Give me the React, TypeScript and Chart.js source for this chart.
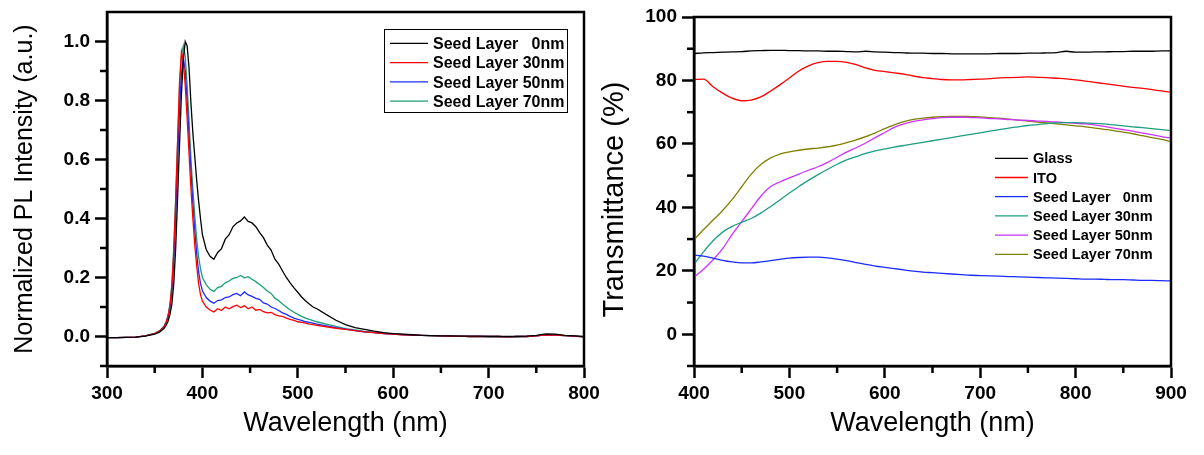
import React, { useEffect, useRef } from "react";
import { Chart, registerables } from "chart.js";

Chart.register(...registerables);

// ---------- Left panel: normalized PL spectra ----------
const plWavelength = [
  300, 310, 320, 330, 340, 350, 355, 360, 362, 364, 366, 368, 370, 372, 374, 376, 378, 380, 382, 384, 386, 388,
  390, 392, 394, 396, 398, 400, 404, 408, 412, 416, 420, 424, 428, 432, 436, 440, 444, 448, 452, 456, 460, 464,
  468, 472, 476, 480, 484, 488, 492, 496, 500, 504, 508, 512, 516, 520, 530, 540, 550, 560, 570, 580, 590, 600,
  610, 620, 630, 640, 650, 660, 670, 680, 690, 700, 710, 720, 730, 740, 750, 760, 770, 780, 790, 800,
];
const plSeed0 = [
  -0.004, -0.004, -0.003, -0.002, 0.001, 0.008, 0.015, 0.028, 0.038, 0.052, 0.075, 0.11, 0.18, 0.3, 0.47, 0.65,
  0.82, 0.94, 1.0, 0.985, 0.91, 0.79, 0.69, 0.61, 0.53, 0.46, 0.4, 0.345, 0.295, 0.272, 0.262, 0.285, 0.298, 0.33,
  0.345, 0.372, 0.385, 0.392, 0.405, 0.39, 0.385, 0.372, 0.352, 0.335, 0.31, 0.293, 0.262, 0.245, 0.222, 0.2,
  0.182, 0.165, 0.15, 0.134, 0.121, 0.11, 0.1, 0.094, 0.074, 0.055, 0.04, 0.03, 0.024, 0.018, 0.013, 0.01, 0.008,
  0.006, 0.004, 0.003, 0.002, 0.002, 0.001, 0.001, 0.001, 0.0, 0.0, 0.0, 0.0, 0.001, 0.004, 0.009, 0.008, 0.004,
  0.002, 0.0,
];
const plSeed30 = [
  -0.004, -0.004, -0.003, -0.002, 0.002, 0.01, 0.018, 0.034, 0.048, 0.068, 0.105, 0.17, 0.29, 0.46, 0.66, 0.86,
  0.965, 0.935, 0.85, 0.74, 0.62, 0.5, 0.4, 0.31, 0.24, 0.18, 0.142, 0.12, 0.1, 0.09, 0.083, 0.094, 0.088, 0.1,
  0.094, 0.101, 0.106, 0.098, 0.104, 0.094, 0.1, 0.089, 0.092, 0.084, 0.08, 0.082, 0.074, 0.07, 0.068, 0.062,
  0.058, 0.055, 0.05, 0.048, 0.045, 0.042, 0.04, 0.038, 0.033, 0.028, 0.024, 0.02, 0.016, 0.013, 0.01, 0.008,
  0.006, 0.005, 0.004, 0.003, 0.002, 0.001, 0.001, 0.0, 0.0, 0.0, 0.0, -0.001, 0.0, 0.0, 0.002, 0.006, 0.005,
  0.003, 0.001, -0.001,
];
const plSeed50 = [
  -0.004, -0.004, -0.003, -0.002, 0.002, 0.01, 0.018, 0.034, 0.048, 0.067, 0.098, 0.155, 0.255, 0.41, 0.59, 0.77,
  0.89, 0.945, 0.9, 0.8, 0.68, 0.56, 0.45, 0.36, 0.28, 0.22, 0.18, 0.155, 0.132, 0.12, 0.113, 0.122, 0.124, 0.132,
  0.134, 0.142, 0.146, 0.138, 0.151, 0.141, 0.136, 0.129, 0.126, 0.114, 0.11, 0.1, 0.095, 0.088, 0.08, 0.075,
  0.068, 0.062, 0.058, 0.055, 0.05, 0.048, 0.045, 0.042, 0.036, 0.03, 0.025, 0.02, 0.016, 0.013, 0.01, 0.008,
  0.006, 0.005, 0.004, 0.003, 0.002, 0.001, 0.001, 0.0, 0.0, 0.0, 0.0, -0.001, 0.0, 0.0, 0.002, 0.006, 0.005,
  0.003, 0.001, -0.001,
];
const plSeed70 = [
  -0.004, -0.004, -0.003, -0.002, 0.002, 0.011, 0.019, 0.036, 0.05, 0.072, 0.11, 0.178, 0.3, 0.47, 0.66, 0.84,
  0.95, 0.985, 0.95, 0.85, 0.73, 0.6, 0.5, 0.41, 0.33, 0.27, 0.23, 0.2, 0.176, 0.16, 0.153, 0.166, 0.17, 0.182,
  0.188, 0.197, 0.2, 0.207, 0.199, 0.203, 0.194, 0.186, 0.176, 0.166, 0.154, 0.146, 0.13, 0.121, 0.11, 0.1, 0.09,
  0.082, 0.075, 0.068, 0.062, 0.058, 0.054, 0.05, 0.042, 0.034, 0.027, 0.022, 0.017, 0.014, 0.011, 0.009, 0.007,
  0.005, 0.004, 0.003, 0.002, 0.001, 0.001, 0.0, 0.0, 0.0, 0.0, -0.001, 0.0, 0.0, 0.002, 0.006, 0.005, 0.003,
  0.001, -0.001,
];
const plXTicks = [300, 400, 500, 600, 700, 800];
const plXMinor = [350, 450, 550, 650, 750];
const plYTicks = [0, 0.2, 0.4, 0.6, 0.8, 1.0];
const plYMinor = [-0.1, 0.1, 0.3, 0.5, 0.7, 0.9];
const plLabels = ["Seed Layer   0nm", "Seed Layer 30nm", "Seed Layer 50nm", "Seed Layer 70nm"];
const plColors = ["#000000", "#ff0000", "#1a2cff", "#1c9e78"];

// ---------- Right panel: transmittance ----------
const trWavelength = [
  400, 410, 420, 430, 440, 450, 460, 470, 480, 490, 500, 510, 520, 530, 540, 550, 560, 570, 580, 590, 600, 610,
  620, 630, 640, 650, 660, 670, 680, 690, 700, 710, 720, 730, 740, 750, 760, 770, 780, 790, 800, 810, 820, 830,
  840, 850, 860, 870, 880, 890, 900,
];
const trGlass = [
  88.5, 88.7, 88.8, 88.9, 89.0, 89.1, 89.3, 89.4, 89.5, 89.5, 89.4, 89.4, 89.3, 89.3, 89.2, 89.2, 89.1, 89.0, 89.2,
  89.0, 88.9, 88.8, 88.7, 88.6, 88.6, 88.5, 88.5, 88.4, 88.4, 88.4, 88.4, 88.4, 88.5, 88.5, 88.5, 88.6, 88.6, 88.7,
  88.8, 89.2, 88.9, 88.9, 89.0, 89.0, 89.1, 89.1, 89.2, 89.2, 89.2, 89.3, 89.3,
];
const trITO = [
  80.3, 80.4, 78.0, 76.0, 74.4, 73.6, 73.8, 74.8, 76.6, 78.6, 80.8, 83.0, 84.6, 85.6, 86.0, 86.0, 85.7, 85.0, 84.0,
  83.2, 82.8, 82.4, 82.0, 81.4, 80.9, 80.6, 80.3, 80.2, 80.2, 80.3, 80.4, 80.6, 80.8, 80.9, 81.0, 81.1, 81.0, 80.9,
  80.7, 80.5, 80.2, 79.8, 79.4, 79.0, 78.6, 78.2, 77.8, 77.5, 77.1, 76.7, 76.3,
];
const trSeed0 = [
  25.0, 24.6, 24.0, 23.3, 22.8, 22.5, 22.5, 22.8, 23.2, 23.6, 24.0, 24.2, 24.3, 24.3, 24.1, 23.7, 23.2, 22.6, 22.0,
  21.5, 21.1, 20.7, 20.3, 19.9, 19.6, 19.4, 19.2, 19.0, 18.8, 18.6, 18.5, 18.4, 18.3, 18.2, 18.1, 18.0, 17.9, 17.8,
  17.7, 17.6, 17.5, 17.4, 17.4, 17.3, 17.2, 17.2, 17.1, 17.0, 17.0, 16.9, 16.8,
];
const trSeed30 = [
  22.0, 26.0, 29.5, 32.2, 34.0, 35.3, 36.5, 38.2, 40.2, 42.3, 44.5, 46.6, 48.5, 50.3, 52.0, 53.6, 55.0, 56.0, 57.0,
  57.8, 58.4, 59.0, 59.5, 60.0, 60.5, 61.0, 61.5, 62.0, 62.5, 63.0, 63.5, 64.0, 64.5, 65.0, 65.4, 65.8, 66.1, 66.4,
  66.6, 66.7, 66.7, 66.6, 66.5, 66.3, 66.0, 65.7, 65.4, 65.1, 64.8, 64.5, 64.2,
];
const trSeed50 = [
  18.0, 20.5, 23.5, 27.0, 31.5, 35.5, 39.5, 43.5, 46.5, 48.0, 49.3, 50.5, 51.7, 52.8, 54.2, 55.8, 57.4, 58.8, 60.3,
  62.0, 63.6, 65.2, 66.3, 67.1, 67.6, 68.0, 68.3, 68.4, 68.4, 68.3, 68.2, 68.0, 67.9, 67.7, 67.5, 67.4, 67.2, 67.1,
  66.9, 66.7, 66.5, 66.3, 66.0, 65.5, 65.0, 64.5, 64.0, 63.4, 62.9, 62.3, 61.8,
];
const trSeed70 = [
  29.8, 33.0, 36.0, 39.0, 42.5, 46.5, 50.5, 53.5, 55.5, 56.8, 57.5, 58.0, 58.4, 58.7, 59.1, 59.6, 60.4, 61.3, 62.3,
  63.5, 64.8, 66.0, 67.0, 67.7, 68.1, 68.4, 68.6, 68.7, 68.7, 68.6, 68.5, 68.3, 68.1, 67.8, 67.5, 67.2, 66.9, 66.6,
  66.3, 66.0, 65.7, 65.4, 65.0, 64.6, 64.2, 63.7, 63.2, 62.6, 62.0, 61.4, 60.7,
];
const trXTicks = [400, 500, 600, 700, 800, 900];
const trXMinor = [450, 550, 650, 750, 850];
const trYTicks = [0, 20, 40, 60, 80, 100];
const trYMinor = [-10, 10, 30, 50, 70, 90];
const trLabels = ["Glass", "ITO", "Seed Layer   0nm", "Seed Layer 30nm", "Seed Layer 50nm", "Seed Layer 70nm"];
const trColors = ["#000000", "#ff0000", "#1a2cff", "#1c9e84", "#cc33ff", "#808000"];

const FONT = "'Liberation Sans', Arial, Helvetica, sans-serif";

const toPoints = (xs: number[], ys: number[]) => xs.map((x, i) => ({ x, y: ys[i] }));

const framePlugin = {
  id: "frameTicks",
  afterDraw(chart: any, _args: any, o: any) {
    const { ctx, chartArea: a } = chart;
    const xs = chart.scales.x;
    const ys = chart.scales.y;
    ctx.save();
    ctx.strokeStyle = "#000";
    ctx.lineWidth = o.frameWidth;
    ctx.lineJoin = "miter";
    ctx.strokeRect(a.left, a.top, a.right - a.left, a.bottom - a.top);
    ctx.lineWidth = o.tickWidth;
    ctx.lineCap = "butt";
    for (const v of o.xMinor) {
      const px = xs.getPixelForValue(v);
      ctx.beginPath();
      ctx.moveTo(px, a.bottom);
      ctx.lineTo(px, a.bottom + o.minorLen);
      ctx.stroke();
    }
    for (const v of o.yMinor) {
      const py = ys.getPixelForValue(v);
      ctx.beginPath();
      ctx.moveTo(a.left, py);
      ctx.lineTo(a.left - o.minorLen, py);
      ctx.stroke();
    }
    ctx.restore();
  },
};

const legendPlugin = {
  id: "customLegend",
  afterDraw(chart: any, _args: any, o: any) {
    const ctx = chart.ctx;
    ctx.save();
    if (o.box) {
      const [x0, y0, x1, y1] = o.box;
      ctx.strokeStyle = "#000";
      ctx.lineWidth = 1;
      ctx.strokeRect(x0 + 0.5, y0 + 0.5, x1 - x0, y1 - y0);
    }
    chart.data.datasets.forEach((ds: any, i: number) => {
      const y = o.y0 + i * o.dy;
      ctx.strokeStyle = ds.borderColor;
      ctx.lineWidth = 1.3;
      ctx.beginPath();
      ctx.moveTo(o.lineX0, y);
      ctx.lineTo(o.lineX1, y);
      ctx.stroke();
      ctx.font = o.font;
      ctx.fillStyle = "#000";
      ctx.textBaseline = "middle";
      ctx.textAlign = "left";
      ctx.save();
      ctx.translate(o.textX, y + 1);
      ctx.scale(o.sx, 1);
      ctx.fillText(ds.label, 0, 0);
      ctx.restore();
    });
    ctx.restore();
  },
};

function makeConfig(p: any): any {
  const tickFont = { family: FONT, size: 19, weight: "bold" as const };
  return {
    type: "line",
    data: {
      datasets: p.series.map((ys: number[], i: number) => ({
        label: p.labels[i],
        data: toPoints(p.xs, ys),
        borderColor: p.colors[i],
        backgroundColor: p.colors[i],
        borderWidth: p.lineWidth,
        pointRadius: 0,
        tension: p.tension,
        cubicInterpolationMode: p.tension > 0 ? "monotone" : "default",
        fill: false,
      })),
    },
    options: {
      animation: false,
      responsive: false,
      devicePixelRatio: 1,
      events: [],
      layout: { padding: { top: p.top, right: p.padRight, left: 0, bottom: 0 } },
      plugins: {
        legend: { display: false },
        tooltip: { enabled: false },
        frameTicks: { xMinor: p.xMinor, yMinor: p.yMinor, minorLen: 7, tickWidth: 2.5, frameWidth: 2.5 },
        customLegend: p.legend,
      },
      scales: {
        x: {
          type: "linear",
          min: p.xMin,
          max: p.xMax,
          afterFit: (s: any) => {
            s.height = p.xAxisHeight;
            s.paddingLeft = 0;
            s.paddingRight = 0;
          },
          afterBuildTicks: (s: any) => {
            s.ticks = p.xTicks.map((v: number) => ({ value: v }));
          },
          border: { display: true, color: "#000", width: 2.5 },
          grid: { drawOnChartArea: false, drawTicks: true, tickLength: 12, tickWidth: 2.5, tickColor: "#000" },
          ticks: { color: "#000", font: tickFont, padding: 4, maxRotation: 0, autoSkip: false },
          title: {
            display: true,
            text: "Wavelength (nm)",
            color: "#000",
            font: { family: FONT, size: 27, weight: "normal" },
            padding: { top: 0, bottom: 15 },
          },
        },
        y: {
          type: "linear",
          min: p.yMin,
          max: p.yMax,
          afterFit: (s: any) => {
            s.width = p.yAxisWidth;
            s.paddingTop = 0;
            s.paddingBottom = 0;
          },
          afterBuildTicks: (s: any) => {
            s.ticks = p.yTicks.map((v: number) => ({ value: v }));
          },
          border: { display: true, color: "#000", width: 2.5 },
          grid: { drawOnChartArea: false, drawTicks: true, tickLength: 12, tickWidth: 2.5, tickColor: "#000" },
          ticks: {
            color: "#000",
            font: tickFont,
            padding: 5,
            autoSkip: false,
            callback: p.yFormat,
          },
          title: {
            display: true,
            text: p.yTitle,
            color: "#000",
            font: { family: FONT, size: p.yTitleSize, weight: "normal" },
            padding: { top: p.yTitlePad, bottom: 0 },
          },
        },
      },
    },
    plugins: [framePlugin, legendPlugin],
  };
}

export default function App() {
  const leftRef = useRef<HTMLCanvasElement>(null);
  const rightRef = useRef<HTMLCanvasElement>(null);

  useEffect(() => {
    const left = new Chart(
      leftRef.current as HTMLCanvasElement,
      makeConfig({
        xs: plWavelength,
        series: [plSeed0, plSeed30, plSeed50, plSeed70],
        labels: plLabels,
        colors: plColors,
        lineWidth: 1.3,
        tension: 0,
        xMin: 300,
        xMax: 800,
        yMin: -0.1,
        yMax: 1.1,
        xTicks: plXTicks,
        yTicks: plYTicks,
        xMinor: plXMinor,
        yMinor: plYMinor,
        yFormat: (v: any) => Number(v).toFixed(1),
        yTitle: "Normalized PL Intensity (a.u.)",
        yTitleSize: 25,
        yTitlePad: 10,
        top: 12,
        padRight: 16,
        yAxisWidth: 107,
        xAxisHeight: 89,
        legend: {
          box: [384, 29, 567, 112],
          y0: 43.3,
          dy: 19.3,
          lineX0: 390,
          lineX1: 428,
          textX: 433,
          font: `bold 17px ${FONT}`,
          sx: 0.94,
        },
      })
    );
    const right = new Chart(
      rightRef.current as HTMLCanvasElement,
      makeConfig({
        xs: trWavelength,
        series: [trGlass, trITO, trSeed0, trSeed30, trSeed50, trSeed70],
        labels: trLabels,
        colors: trColors,
        lineWidth: 1.3,
        tension: 0.4,
        xMin: 400,
        xMax: 900,
        yMin: -10,
        yMax: 100,
        xTicks: trXTicks,
        yTicks: trYTicks,
        xMinor: trXMinor,
        yMinor: trYMinor,
        yFormat: (v: any) => String(Math.round(Number(v))),
        yTitle: "Transmittance (%)  ",
        yTitleSize: 29,
        yTitlePad: -2,
        top: 17,
        padRight: 33,
        yAxisWidth: 94,
        xAxisHeight: 89,
        legend: {
          box: null,
          y0: 158.3,
          dy: 19.2,
          lineX0: 395,
          lineX1: 428,
          textX: 433,
          font: `bold 15px ${FONT}`,
          sx: 0.97,
        },
      })
    );
    return () => {
      left.destroy();
      right.destroy();
    };
  }, []);

  return (
    <div style={{ position: "absolute", left: 0, top: 0, width: 1204, height: 455, background: "#fff" }}>
      <canvas
        ref={leftRef}
        width={600}
        height={455}
        style={{ position: "absolute", left: 0, top: 0, width: 600, height: 455 }}
      />
      <canvas
        ref={rightRef}
        width={604}
        height={455}
        style={{ position: "absolute", left: 600, top: 0, width: 604, height: 455 }}
      />
    </div>
  );
}
